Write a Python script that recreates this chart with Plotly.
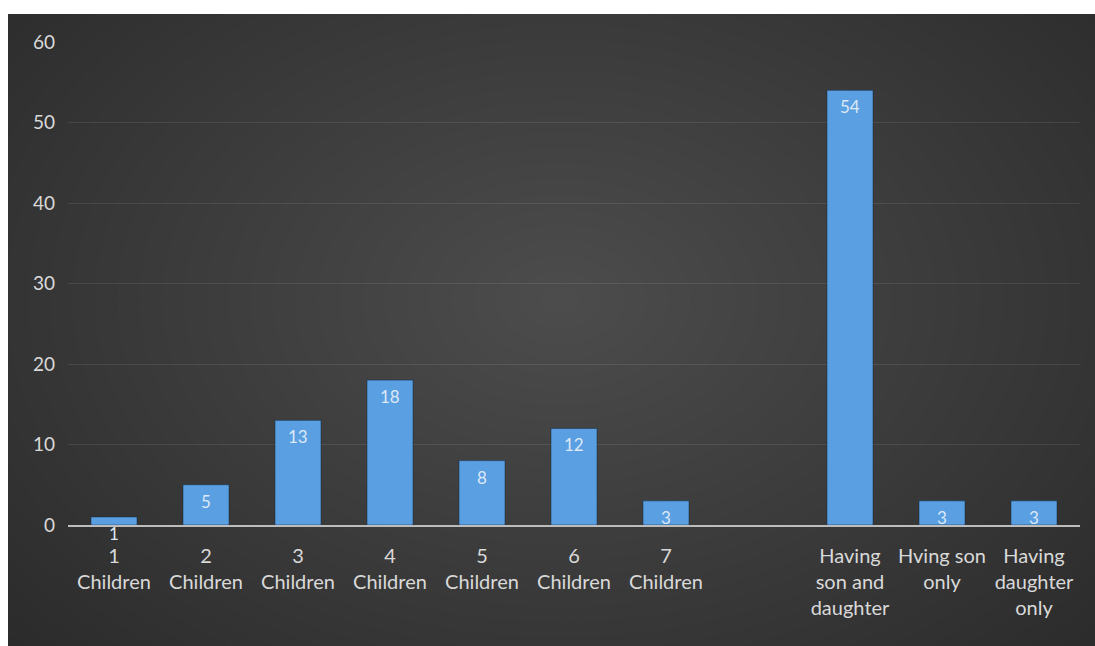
import plotly.graph_objects as go

# Number of children per respondent, plus the gender mix of their children
categories = [
    "1 Children", "2 Children", "3 Children", "4 Children", "5 Children",
    "6 Children", "7 Children", " ",
    "Having son and daughter", "Hving son only", "Having daughter only",
]
tick_labels = [
    "1<br>Children", "2<br>Children", "3<br>Children", "4<br>Children",
    "5<br>Children", "6<br>Children", "7<br>Children", "",
    "Having<br>son and<br>daughter", "Hving son<br>only", "Having<br>daughter<br>only",
]
values = [1, 5, 13, 18, 8, 12, 3, None, 54, 3, 3]
y_ticks = [0, 10, 20, 30, 40, 50, 60]

W, H = 1095, 646
FONT = "Lato"
TEXT = "#d9d9d9"

# Panel geometry in pixels
panel_left, panel_top = 8, 14
plot_left, plot_right = 68, 1080
plot_top, plot_bottom = 42, 525

fig = go.Figure(
    go.Bar(
        x=categories,
        y=values,
        marker=dict(color="#5a9fe1", line=dict(color="rgba(20,40,70,0.5)", width=1)),
        width=0.5,
        hoverinfo="x+y",
    )
)

# Value labels just below the top of each bar
annotations = [
    dict(x=c, y=v, xref="x", yref="y", text=str(v), showarrow=False,
         yanchor="top", yshift=-4,
         font=dict(family=FONT, size=17, color="#dce8f6"))
    for c, v in zip(categories, values) if v is not None
]

# Dark panel with a soft radial highlight toward the middle
shapes = [
    dict(type="rect", xref="paper", yref="paper", x0=panel_left / W, x1=1.0,
         y0=0.0, y1=1 - panel_top / H, fillcolor="#292929", line_width=0, layer="below")
]
cx, cy = 560, 300
steps = 36
edge_rgb = (0x29, 0x29, 0x29)
mid_rgb = (0x4c, 0x4c, 0x4c)
for i in range(steps):
    t = i / (steps - 1)
    rx = 780 * (1 - t) + 20
    ry = 540 * (1 - t) + 14
    c = tuple(round(e + (m - e) * t) for e, m in zip(edge_rgb, mid_rgb))
    shapes.append(dict(
        type="circle", xref="paper", yref="paper",
        x0=(cx - rx) / W, x1=(cx + rx) / W,
        y0=1 - (cy + ry) / H, y1=1 - (cy - ry) / H,
        fillcolor="rgb(%d,%d,%d)" % c, line_width=0, layer="below",
    ))
# White page margins around the panel
shapes.append(dict(type="rect", xref="paper", yref="paper", x0=-0.1, x1=panel_left / W,
                   y0=-0.1, y1=1.1, fillcolor="white", line_width=0, layer="below"))
shapes.append(dict(type="rect", xref="paper", yref="paper", x0=-0.1, x1=1.1,
                   y0=1 - panel_top / H, y1=1.1, fillcolor="white", line_width=0, layer="below"))

fig.update_layout(
    width=W,
    height=H,
    margin=dict(l=0, r=0, t=0, b=0, autoexpand=False),
    paper_bgcolor="white",
    plot_bgcolor="rgba(0,0,0,0)",
    showlegend=False,
    bargap=0.5,
    shapes=shapes,
    annotations=annotations,
    font=dict(family=FONT, color=TEXT),
    xaxis=dict(
        domain=[plot_left / W, plot_right / W],
        type="category",
        categoryorder="array",
        categoryarray=categories,
        tickvals=categories,
        ticktext=tick_labels,
        tickfont=dict(family=FONT, size=20, color=TEXT),
        showgrid=False,
        showline=True,
        linecolor="#bdbdbd",
        linewidth=2,
        ticks="",
        ticklabelstandoff=12,
        automargin=False,
        fixedrange=True,
    ),
    yaxis=dict(
        domain=[1 - plot_bottom / H, 1 - plot_top / H],
        range=[0, 60],
        tickvals=y_ticks,
        tickfont=dict(family=FONT, size=19, color=TEXT),
        showgrid=True,
        gridcolor="rgba(255,255,255,0.09)",
        gridwidth=1,
        zeroline=False,
        showline=False,
        ticks="",
        ticklabelstandoff=12,
        automargin=False,
        fixedrange=True,
    ),
)

fig.write_html("out.html")
